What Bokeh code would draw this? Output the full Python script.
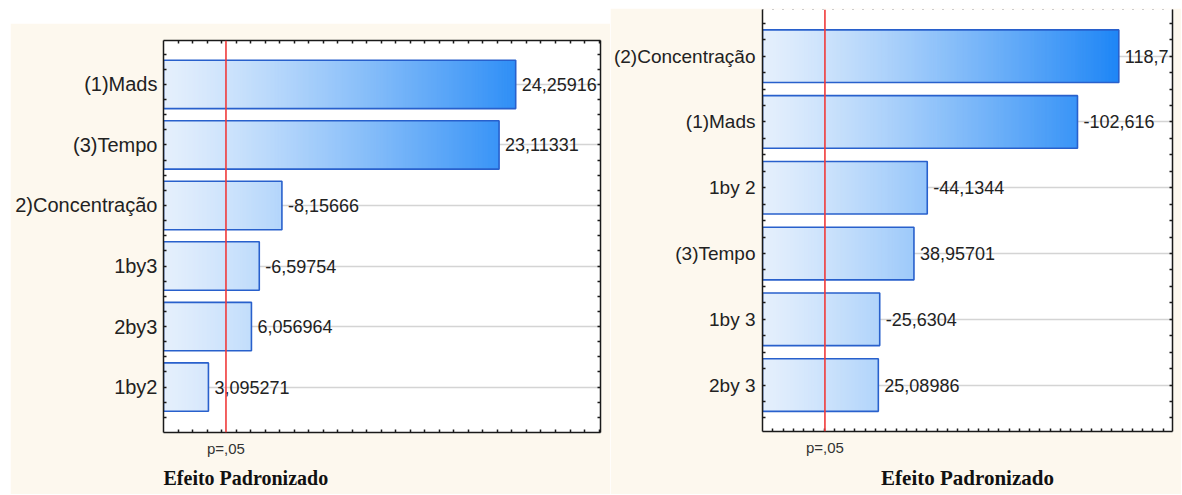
import numpy as np
from bokeh.plotting import figure
from bokeh.models import Range1d, FixedTicker, LinearAxis, Span, Title, Spacer
from bokeh.layouts import row, column
from bokeh.core.properties import value
from bokeh.embed import file_html
from bokeh.resources import INLINE

# ---------------- data ----------------
left_terms = ["(1)Mads", "(3)Tempo", "2)Concentração", "1by3", "2by3", "1by2"]
left_values = [24.25916, 23.11331, -8.15666, -6.59754, 6.056964, 3.095271]
left_labels = ["24,25916", "23,11331", "-8,15666", "-6,59754", "6,056964", "3,095271"]

right_terms = ["(2)Concentração", "(1)Mads", "1by 2", "(3)Tempo", "1by 3", "2by 3"]
right_values = [118.7, -102.616, -44.1344, 38.95701, -25.6304, 25.08986]
right_labels = ["118,7", "-102,616", "-44,1344", "38,95701", "-25,6304", "25,08986"]

t_crit = 4.303          # p = .05
p_label = "p=,05"
x_title = "Efeito Padronizado"

CREAM = "#fdf8ee"
BAR_LINE = "#2860cc"
GRAD_START = np.array([229, 240, 253])
GRAD_END = np.array([30, 134, 246])


def grad_color(frac):
    t = max(0.0, frac) / 0.87
    c = GRAD_START + (GRAD_END - GRAD_START) * (t ** 1.2)
    c = np.clip(c, 0, 255).astype(int)
    return "#%02x%02x%02x" % tuple(c)


def style_axis(ax):
    ax.axis_line_color = "#1a1a1a"
    ax.axis_line_width = 1.5
    ax.major_tick_in = 3
    ax.major_tick_out = 0
    ax.minor_tick_in = 3
    ax.minor_tick_out = 0
    ax.major_tick_line_color = "#1a1a1a"
    ax.minor_tick_line_color = "#1a1a1a"
    ax.major_tick_line_width = 1.5
    ax.minor_tick_line_width = 1.5


def make_panel(terms, values, labels, x_start, x_end, tick_step, pad_top, pad_bottom,
               width, height, borders, label_standoff, label_size):
    n = len(terms)
    ypos = list(range(1, n + 1))
    mags = [abs(v) for v in values]
    p = figure(width=width, height=height, output_backend="svg", toolbar_location=None,
               x_range=Range1d(x_start, x_end),
               y_range=Range1d(n + pad_bottom, 1 - pad_top),
               min_border_left=borders[0], min_border_right=borders[1],
               min_border_top=borders[2], min_border_bottom=borders[3])
    p.background_fill_color = "white"
    p.border_fill_color = CREAM
    p.outline_line_color = None

    # grid at categories
    p.xgrid.visible = False
    p.ygrid.ticker = FixedTicker(ticks=ypos)
    p.ygrid.grid_line_color = "#d4d4d4"
    p.ygrid.grid_line_width = 1.5

    # gradient bars (slices)
    span = x_end - x_start
    step = span / 300.0
    ys, ls, rs, cs = [], [], [], []
    for y, m in zip(ypos, mags):
        edges = np.arange(x_start, m, step)
        for e in edges:
            r = min(e + step * 1.6, m)
            ys.append(y)
            ls.append(e)
            rs.append(r)
            cs.append(grad_color((e + step / 2 - x_start) / span))
    p.hbar(y=ys, left=ls, right=rs, height=0.8, fill_color=cs, line_color=None)
    p.hbar(y=ypos, left=x_start, right=mags, height=0.8, fill_color=None,
           line_color=BAR_LINE, line_width=1.6)

    p.text(x=mags, y=ypos, text=labels, x_offset=6, text_baseline="middle",
           text_align="left", text_font=value("Liberation Sans"),
           text_font_size="18px", text_color="#222222")

    p.add_layout(Span(location=t_crit, dimension="height", line_color="#f03a3a",
                      line_width=1.6))

    # axes
    minor_x = list(np.arange(x_start + tick_step, x_end, tick_step))
    xt = FixedTicker(ticks=[t_crit], minor_ticks=minor_x)
    minor_y = [v for v in np.arange(0.5, n + 0.75, 0.25) if v not in ypos]
    yt = FixedTicker(ticks=ypos, minor_ticks=minor_y)

    xa = p.xaxis[0]
    xa.ticker = xt
    style_axis(xa)
    xa.major_tick_in = 0
    xa.major_label_overrides = {t_crit: p_label}
    xa.major_label_text_font = "Liberation Sans"
    xa.major_label_text_font_size = "15px"
    xa.major_label_text_color = "#333333"
    xa.major_label_standoff = 7

    ya = p.yaxis[0]
    ya.ticker = yt
    style_axis(ya)
    ya.major_label_overrides = {y: t for y, t in zip(ypos, terms)}
    ya.major_label_text_font = "Liberation Sans"
    ya.major_label_text_font_size = label_size
    ya.major_label_text_color = "#222222"
    ya.major_label_standoff = label_standoff

    # right frame axis: ticks only (all as minor ticks, so no labels)
    all_y = sorted(list(ypos) + minor_y)
    ra = LinearAxis(ticker=FixedTicker(ticks=[], minor_ticks=all_y))
    style_axis(ra)
    ra.major_label_standoff = 0
    p.add_layout(ra, "right")

    return p, minor_x


left, lminor = make_panel(left_terms, left_values, left_labels, 0.0, 30.1, 1.0, 0.725, 0.75,
                          600, 471, (153, 10, 17, 62), 6, "20px")
top_axis = LinearAxis(ticker=FixedTicker(ticks=[], minor_ticks=lminor))
style_axis(top_axis)
top_axis.major_label_standoff = 0
left.add_layout(top_axis, "above")
left.add_layout(Title(text=x_title, align="left", text_font="Liberation Serif",
                      text_font_style="bold", text_font_size="20px", text_color="#111111",
                      standoff=10), "below")

right, rminor = make_panel(right_terms, right_values, right_labels, -20.0, 139.6, 4.0, 0.71, 0.706,
                           571, 486, (152, 9, 1, 62), 7, "19px")
right.outline_line_color = "#9a9a9a"
right.outline_line_dash = "1 9"
right.add_layout(Title(text=x_title, align="center", text_font="Liberation Serif",
                       text_font_style="bold", text_font_size="21px", text_color="#111111",
                       standoff=10), "below")

layout = row(
    Spacer(width=10, height=494),
    column(Spacer(width=600, height=23), left),
    column(Spacer(width=571, height=8), right),
)

open("out.html", "w").write(file_html(layout, INLINE))
